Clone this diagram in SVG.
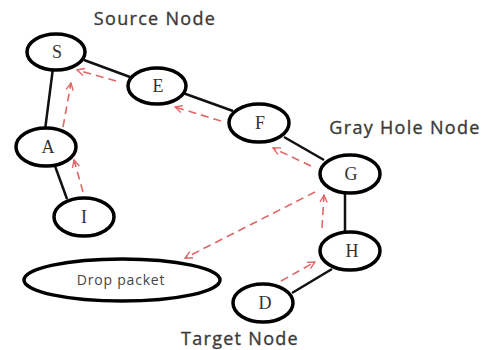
<svg xmlns="http://www.w3.org/2000/svg" width="492" height="350" viewBox="0 0 492 350">
<defs>
<marker id="ah" viewBox="0 0 10 10" refX="9" refY="5" markerWidth="9" markerHeight="9" markerUnits="userSpaceOnUse" orient="auto">
<path d="M1,1 L9,5 L1,9" fill="none" stroke="#e06666" stroke-width="1.5"/>
</marker>
</defs>
<style>
.n{fill:#fff;stroke:#000;stroke-width:3.5}
.e{stroke:#111;stroke-width:2.5;fill:none}
.r{stroke:#e06666;stroke-width:1.6;stroke-dasharray:8 5;fill:none;marker-end:url(#ah)}
.t{font-family:"Liberation Serif",serif;font-size:18px;text-anchor:middle;fill:#333}
.l{font-family:"Open Sans","DejaVu Sans",sans-serif;font-size:18px;letter-spacing:1.3px;fill:#3a3a3a;text-anchor:middle;stroke:#3a3a3a;stroke-width:0.35}
</style>
<rect width="492" height="350" fill="#fff"/>
<g id="connectors">
<line class="e" x1="53" y1="68" x2="45" y2="130"/>
<line class="e" x1="84" y1="60" x2="130" y2="77"/>
<line class="e" x1="183" y1="93" x2="233" y2="111"/>
<line class="e" x1="284" y1="137" x2="324" y2="160"/>
<line class="e" x1="345" y1="193" x2="345" y2="233"/>
<line class="e" x1="55" y1="166" x2="67" y2="199"/>
<line class="e" x1="292" y1="293" x2="332" y2="269"/>
<line class="r" x1="116" y1="81" x2="77" y2="70"/>
<line class="r" x1="221" y1="121" x2="175" y2="107"/>
<line class="r" x1="311" y1="166" x2="273" y2="148"/>
<line class="r" x1="63" y1="127" x2="71" y2="83"/>
<line class="r" x1="83" y1="192" x2="74" y2="160"/>
<line class="r" x1="322" y1="228" x2="324" y2="195"/>
<line class="r" x1="315" y1="192" x2="185" y2="258"/>
<line class="r" x1="281" y1="281" x2="315" y2="262"/>
</g>
<g id="S"><ellipse class="n" cx="56" cy="52" rx="29" ry="18"/><text class="t" x="57" y="58">S</text></g>
<g id="E"><ellipse class="n" cx="157" cy="86" rx="29" ry="18"/><text class="t" x="158" y="92">E</text></g>
<g id="F"><ellipse class="n" cx="259" cy="123" rx="30" ry="19"/><text class="t" x="260" y="129">F</text></g>
<g id="G"><ellipse class="n" cx="350" cy="174" rx="30" ry="19"/><text class="t" x="351" y="180">G</text></g>
<g id="H"><ellipse class="n" cx="350" cy="251" rx="30" ry="19"/><text class="t" x="352" y="257">H</text></g>
<g id="D"><ellipse class="n" cx="263" cy="303" rx="30" ry="19"/><text class="t" x="265" y="309">D</text></g>
<g id="A"><ellipse class="n" cx="46" cy="147" rx="30" ry="19"/><text class="t" x="48" y="153">A</text></g>
<g id="I"><ellipse class="n" cx="84" cy="217" rx="30" ry="19"/><text class="t" x="84" y="223">I</text></g>
<g id="drop"><ellipse class="n" cx="122" cy="280" rx="98" ry="21"/><text x="121" y="285" text-anchor="middle" font-family="'Open Sans',sans-serif" font-size="14" letter-spacing="0.8" fill="#444">Drop packet</text></g>
<g id="labels">
<text class="l" x="155" y="25">Source Node</text>
<text class="l" x="405" y="134">Gray Hole Node</text>
<text class="l" x="240" y="345">Target Node</text>
</g>
</svg>
